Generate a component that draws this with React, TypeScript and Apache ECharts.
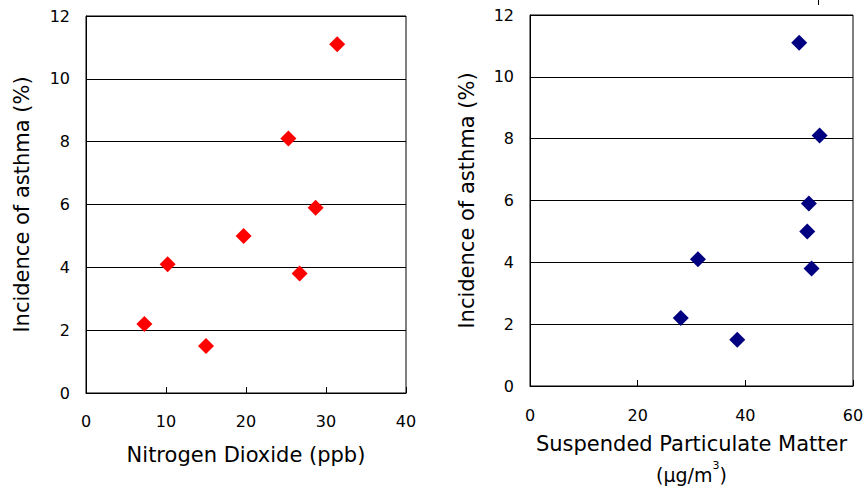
import React, { useEffect, useRef } from "react";
import * as echarts from "echarts";

const no2X = [31.4, 25.3, 28.7, 19.7, 10.2, 26.7, 7.3, 15.0];
const spmX = [50.0, 53.8, 51.8, 51.5, 31.2, 52.3, 28.0, 38.5];
const asthmaY = [11.1, 8.1, 5.9, 5.0, 4.1, 3.8, 2.2, 1.5];

const leftXTitle = "Nitrogen Dioxide (ppb)";
const rightXTitle = "Suspended Particulate Matter";
const rightXUnit = ["(μg/m", "3", ")"];
const yTitle = "Incidence of asthma (%)";

const FONT = "DejaVu Sans";

export default function App() {
  const ref = useRef<HTMLDivElement>(null);
  useEffect(() => {
    if (!ref.current) return;
    const chart = echarts.init(ref.current, null, { renderer: "svg" });
    const axisLine = { show: true, lineStyle: { color: "#000", width: 1 } };
    const tickLabel = { color: "#000", fontSize: 16, fontFamily: FONT };
    const mkY = (gridIndex: number, gap: number) => ({
      type: "value",
      gridIndex,
      min: 0,
      max: 12,
      interval: 2,
      axisLine,
      axisTick: { show: false },
      axisLabel: { ...tickLabel, margin: 16 },
      splitLine: { show: true, lineStyle: { color: "#000", width: 1 } },
      name: yTitle,
      nameLocation: "middle",
      nameGap: gap,
      nameTextStyle: { color: "#000", fontSize: 21, fontFamily: FONT },
    });
    chart.setOption({
      animation: false,
      backgroundColor: "#fff",
      grid: [
        { left: 86, top: 16, width: 320, height: 377, show: true, borderColor: "#000", borderWidth: 1, containLabel: false, outerBoundsMode: "none" },
        { left: 530, top: 15, width: 323, height: 371, show: true, borderColor: "#000", borderWidth: 1, containLabel: false, outerBoundsMode: "none" },
      ],
      xAxis: [
        {
          type: "value",
          gridIndex: 0,
          min: 0,
          max: 40,
          interval: 10,
          axisLine,
          axisTick: { show: true, inside: true, length: 6, lineStyle: { color: "#000" } },
          axisLabel: { ...tickLabel, margin: 20 },
          splitLine: { show: false },
          name: leftXTitle,
          nameLocation: "middle",
          nameGap: 51,
          nameTextStyle: { color: "#000", fontSize: 21, fontFamily: FONT },
        },
        {
          type: "value",
          gridIndex: 1,
          min: 0,
          max: 60,
          interval: 20,
          axisLine,
          axisTick: { show: true, inside: true, length: 6, lineStyle: { color: "#000" } },
          axisLabel: { ...tickLabel, margin: 21 },
          splitLine: { show: false },
          name:
            "{t|" + rightXTitle + "}\n{u|" + rightXUnit[0] + "}{s|" + rightXUnit[1] + "}{u|" + rightXUnit[2] + "}",
          nameLocation: "middle",
          nameGap: 51,
          nameTextStyle: {
            color: "#000",
            fontSize: 21,
            fontFamily: FONT,
            rich: {
              t: { fontSize: 21, fontFamily: FONT, color: "#000", lineHeight: 14 },
              u: { fontSize: 19, fontFamily: FONT, color: "#000", lineHeight: 19, verticalAlign: "bottom" },
              s: { fontSize: 11, fontFamily: FONT, color: "#000", lineHeight: 33, verticalAlign: "top", height: 11, padding: [9, 0, 0, 0] },
            },
          },
        },
      ],
      yAxis: [mkY(0, 54), mkY(1, 53)],
      series: [
        {
          type: "scatter",
          xAxisIndex: 0,
          yAxisIndex: 0,
          symbol: "diamond",
          symbolSize: 16,
          itemStyle: { color: "#ff0000", opacity: 1 },
          data: no2X.map((x, i) => [x, asthmaY[i]]),
        },
        {
          type: "scatter",
          xAxisIndex: 1,
          yAxisIndex: 1,
          symbol: "diamond",
          symbolSize: 16,
          itemStyle: { color: "#000080", opacity: 1 },
          data: spmX.map((x, i) => [x, asthmaY[i]]),
        },
      ],
      graphic: [
        { type: "line", shape: { x1: 818.5, y1: 0, x2: 818.5, y2: 5 }, style: { stroke: "#000", lineWidth: 1 } },
      ],
    });
    return () => chart.dispose();
  }, []);
  return (
    <div
      ref={ref}
      style={{ position: "fixed", left: 0, top: 0, width: 866, height: 491, background: "#fff" }}
    />
  );
}
